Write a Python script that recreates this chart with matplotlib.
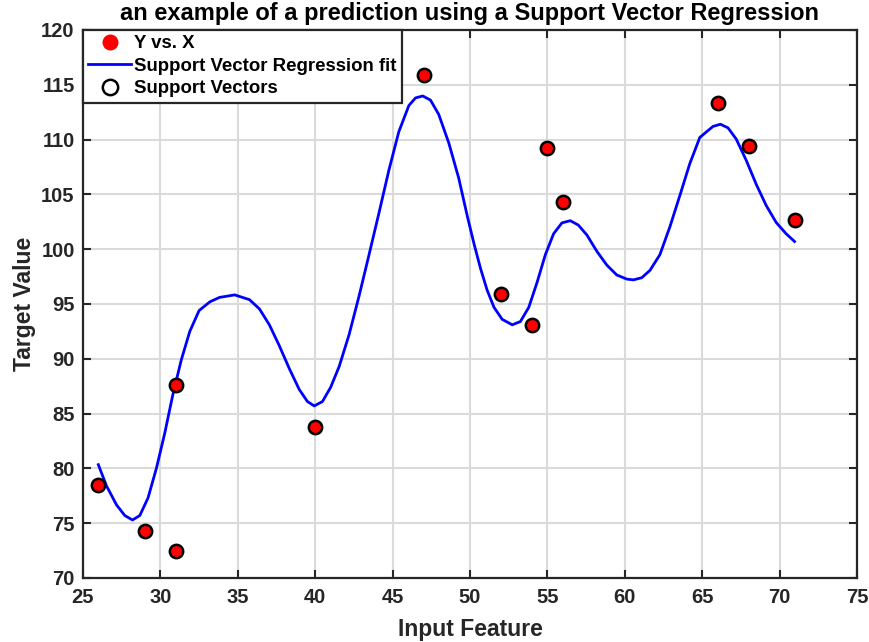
import matplotlib
matplotlib.use("Agg")
import matplotlib.pyplot as plt

plt.rcParams['font.family'] = ['Liberation Sans', 'DejaVu Sans']
plt.rcParams['font.weight'] = 'bold'

# observed samples
x_data = [26, 29, 31, 31, 40, 47, 52, 54, 55, 56, 66, 68, 71]
y_data = [78.5, 74.3, 87.6, 72.5, 83.8, 115.9, 95.9, 93.1, 109.2, 104.3, 113.3, 109.4, 102.7]

# SVR prediction sampled along the input range
x_fit = [25.99, 26.52, 27.17, 27.7, 28.2, 28.67, 29.2, 29.74, 30.28, 30.8,
         31.35, 31.9, 32.5, 33.2, 33.82, 34.8, 35.75, 36.4, 37.04, 37.68,
         38.33, 38.97, 39.5, 39.94, 40.47, 41.0, 41.55, 42.19, 42.83, 43.48,
         44.12, 44.76, 45.4, 46.05, 46.48, 46.95, 47.45, 47.98, 48.63, 49.27,
         49.83, 50.26, 50.69, 51.1, 51.55, 52.08, 52.73, 53.26, 53.8, 54.33,
         54.87, 55.4, 55.94, 56.48, 57.0, 57.55, 58.2, 58.84, 59.48, 60.13,
         60.56, 61.1, 61.63, 62.27, 62.92, 63.56, 64.2, 64.85, 65.7, 66.18,
         66.67, 67.2, 67.85, 68.5, 69.14, 69.78, 70.43, 70.97]
y_fit = [80.34, 78.4, 76.66, 75.7, 75.29, 75.7, 77.3, 80.0, 83.2, 86.7,
         89.9, 92.5, 94.4, 95.2, 95.6, 95.83, 95.4, 94.55, 93.1, 91.2,
         89.1, 87.2, 86.1, 85.7, 86.1, 87.4, 89.3, 92.2, 95.7, 99.5,
         103.3, 107.2, 110.7, 113.1, 113.8, 113.98, 113.6, 112.3, 109.7, 106.5,
         103.0, 100.5, 98.2, 96.3, 94.7, 93.6, 93.1, 93.4, 94.7, 96.95,
         99.5, 101.4, 102.4, 102.6, 102.2, 101.3, 99.8, 98.55, 97.65, 97.27,
         97.2, 97.4, 98.07, 99.5, 102.06, 104.9, 107.8, 110.2, 111.2, 111.4,
         111.07, 110.05, 108.1, 105.9, 103.98, 102.44, 101.4, 100.7]

fig = plt.figure(figsize=(8.7, 6.42), dpi=100)
ax = fig.add_axes([0.0954, 0.0997, 0.8896, 0.8536])

ax.plot(x_data, y_data, 'o', color='red', markersize=10, markeredgewidth=0,
        label='Y vs. X', zorder=3)
ax.plot(x_fit, y_fit, '-', color='blue', linewidth=2, solid_joinstyle='round',
        label='Support Vector Regression fit', zorder=2)
ax.plot(x_data, y_data, 'o', markerfacecolor='none', markeredgecolor='black',
        markersize=9.6, markeredgewidth=1.8, label='Support Vectors', zorder=4)

ax.set_xlim(25, 75)
ax.set_ylim(70, 120)
ax.set_xticks(range(25, 76, 5))
ax.set_yticks(range(70, 121, 5))
ax.grid(True, color='#dadada', linewidth=1.5)
ax.set_axisbelow(True)
ax.tick_params(direction='in', top=True, right=True, length=6, width=1.5,
               labelsize=14.5, color='#262626', labelcolor='#262626')
ax.tick_params(axis='x', pad=7)
ax.tick_params(axis='y', pad=6)
for s in ax.spines.values():
    s.set_linewidth(1.6)
    s.set_color('#262626')

ax.set_xlabel('Input Feature', fontsize=16.5, fontweight='bold', color='#262626',
              labelpad=8)
ax.set_ylabel('Target Value', fontsize=16.5, fontweight='bold', color='#262626',
              labelpad=4)
ax.set_title('an example of a prediction using a Support Vector Regression',
             fontsize=17, fontweight='bold', pad=7)

leg = ax.legend(loc='upper left', fontsize=13.4, frameon=True, fancybox=False,
                borderaxespad=0, handlelength=2.3, borderpad=0.28, labelspacing=0.3,
                handletextpad=0.15, markerscale=1.15)
leg.get_frame().set_edgecolor('#262626')
leg.get_frame().set_linewidth(1.6)
leg.get_frame().set_alpha(1)

fig.savefig('out.png', dpi=100)
